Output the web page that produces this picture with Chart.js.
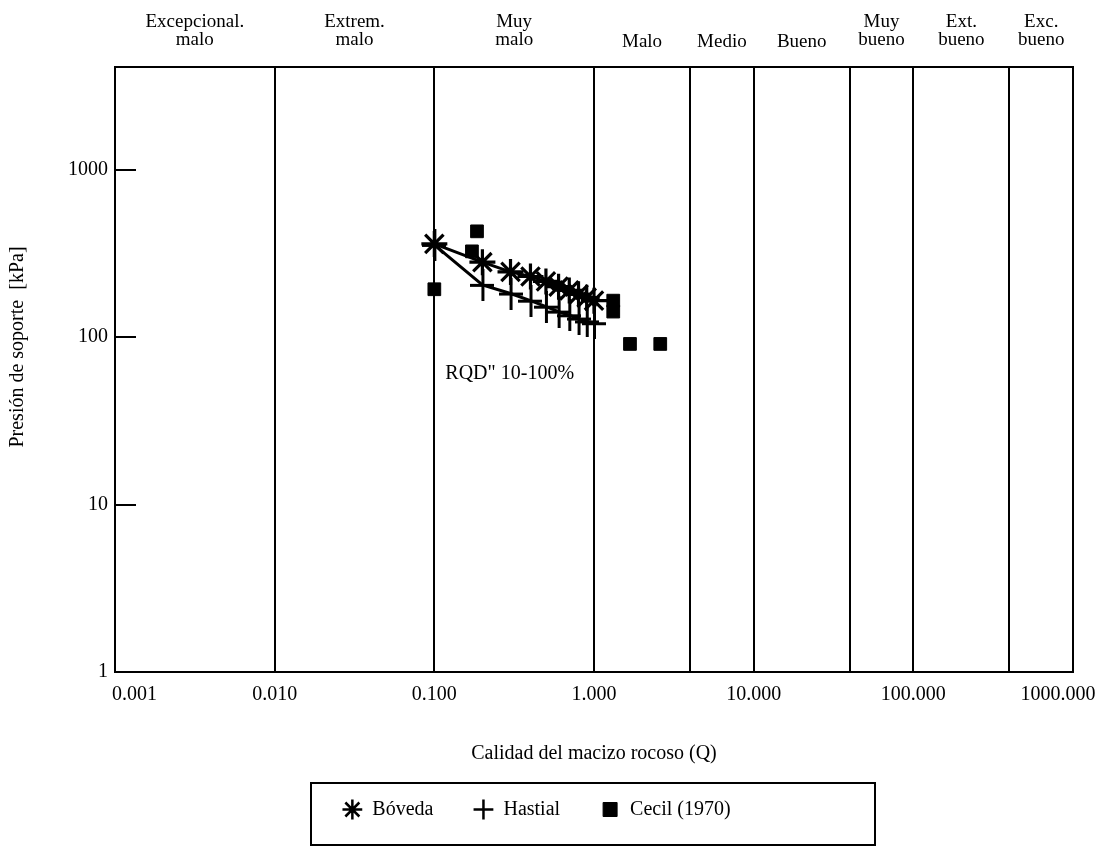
<!DOCTYPE html>
<html><head><meta charset="utf-8">
<script src="https://cdn.jsdelivr.net/npm/chart.js@4/dist/chart.umd.min.js"></script>
<style>html,body{margin:0;padding:0;background:#fff}</style>
</head><body>
<canvas id="c" width="1100" height="847"></canvas>
<script>
const Q_VALUES = [0.1, 0.2, 0.3, 0.4, 0.5, 0.6, 0.7, 0.8, 0.9, 1.0];
const BOVEDA = [360, 280, 245, 230, 215, 200, 190, 180, 172, 165];
const HASTIAL = [355, 205, 182, 165, 152, 142, 135, 129, 124, 121];
const CECIL_Q = [0.1, 0.172, 0.185, 1.32, 1.32, 1.68, 2.6];
const CECIL_P = [193, 325, 428, 165, 142, 91, 91];
const X_TICKS = [0.001, 0.01, 0.1, 1, 10, 100, 1000];
const X_TICK_LABELS = ['0.001', '0.010', '0.100', '1.000', '10.000', '100.000', '1000.000'];
const Y_TICKS = [1, 10, 100, 1000];
const Y_TICK_LABELS = ['1', '10', '100', '1000'];
const CLASS_BOUNDS = [0.001, 0.01, 0.1, 1, 4, 10, 40, 100, 400, 1000];
const CLASS_LABELS = [['Excepcional.', 'malo'], ['Extrem.', 'malo'], ['Muy', 'malo'], ['Malo'], ['Medio'], ['Bueno'], ['Muy', 'bueno'], ['Ext.', 'bueno'], ['Exc.', 'bueno']];
const SERIES_NAMES = ['Bóveda', 'Hastial', 'Cecil (1970)'];
const X_TITLE = 'Calidad del macizo rocoso (Q)';
const Y_TITLE = 'Presión de soporte  [kPa]';
const NOTE_TEXT = 'RQD" 10-100%';
const NOTE_POS = {x: 0.1, y: 60};

const FONT = '"Liberation Serif", "Times New Roman", serif';
const INK = '#000';

function makePlus(w, h, lw) {
  const cv = document.createElement('canvas');
  cv.width = w; cv.height = h;
  const g = cv.getContext('2d');
  g.fillStyle = INK;
  g.fillRect(0, Math.round(h / 2 - lw / 2), w, lw);
  g.fillRect(Math.round(w / 2 - lw / 2), 0, lw, h);
  return cv;
}
const PLUS_MARK = makePlus(24, 32, 3);

const decor = {
  id: 'decor',
  beforeDatasetsDraw(chart) {
    const {ctx, chartArea: a, scales: {x, y}} = chart;
    ctx.save();
    ctx.strokeStyle = INK;
    ctx.lineWidth = 2;
    CLASS_BOUNDS.slice(1, -1).forEach(b => {
      const px = Math.round(x.getPixelForValue(b));
      ctx.beginPath(); ctx.moveTo(px, a.top); ctx.lineTo(px, a.bottom); ctx.stroke();
    });
    ctx.strokeRect(a.left, a.top, a.right - a.left, a.bottom - a.top);
    Y_TICKS.forEach(v => {
      const py = Math.round(y.getPixelForValue(v));
      ctx.beginPath(); ctx.moveTo(a.left, py); ctx.lineTo(a.left + 21, py); ctx.stroke();
    });
    ctx.restore();
  },
  afterDraw(chart) {
    const {ctx, chartArea: a, scales: {x, y}} = chart;
    ctx.save();
    ctx.fillStyle = INK;
    ctx.font = '19px ' + FONT;
    ctx.textAlign = 'center';
    ctx.textBaseline = 'alphabetic';
    CLASS_LABELS.forEach((lines, i) => {
      const c = Math.sqrt(CLASS_BOUNDS[i] * CLASS_BOUNDS[i + 1]);
      const px = x.getPixelForValue(c);
      if (lines.length === 1) {
        ctx.fillText(lines[0], px, 47);
      } else {
        ctx.fillText(lines[0], px, 27);
        ctx.fillText(lines[1], px, 45);
      }
    });
    ctx.font = '20px ' + FONT;
    ctx.textBaseline = 'middle';
    X_TICKS.forEach((v, i) => {
      const px = x.getPixelForValue(v);
      if (i === 0) { ctx.textAlign = 'left'; ctx.fillText(X_TICK_LABELS[i], px - 3, a.bottom + 23); }
      else if (i === X_TICKS.length - 1) { ctx.textAlign = 'center'; ctx.fillText(X_TICK_LABELS[i], px - 15, a.bottom + 23); }
      else { ctx.textAlign = 'center'; ctx.fillText(X_TICK_LABELS[i], px, a.bottom + 23); }
    });
    ctx.save();
    ctx.translate(18, 347);
    ctx.rotate(-Math.PI / 2);
    ctx.textAlign = 'center';
    ctx.fillText(Y_TITLE, 0, 0);
    ctx.restore();
    ctx.textAlign = 'left';
    ctx.fillText(NOTE_TEXT, x.getPixelForValue(NOTE_POS.x) + 11, y.getPixelForValue(NOTE_POS.y));
    ctx.strokeStyle = INK;
    ctx.lineWidth = 2;
    ctx.strokeRect(311, 783, 564, 62);
    ctx.restore();
  }
};

new Chart(document.getElementById('c'), {
  type: 'scatter',
  data: {
    datasets: [
      {
        label: SERIES_NAMES[0],
        data: Q_VALUES.map((q, i) => ({x: q, y: BOVEDA[i]})),
        showLine: true, borderColor: INK, backgroundColor: INK, borderWidth: 3,
        pointStyle: 'star', pointRadius: 13, pointBorderWidth: 3.2, pointBorderColor: INK
      },
      {
        label: SERIES_NAMES[1],
        data: Q_VALUES.map((q, i) => ({x: q, y: HASTIAL[i]})),
        showLine: true, borderColor: INK, backgroundColor: INK, borderWidth: 3,
        pointStyle: PLUS_MARK, pointRadius: 12, pointBorderWidth: 3, pointBorderColor: INK
      },
      {
        label: SERIES_NAMES[2],
        data: CECIL_Q.map((q, i) => ({x: q, y: CECIL_P[i]})),
        showLine: false, borderColor: INK, backgroundColor: INK, borderWidth: 1,
        pointStyle: 'rect', pointRadius: 9, pointBorderWidth: 1
      }
    ]
  },
  options: {
    responsive: false,
    animation: false,
    layout: {padding: {top: 67, right: 27, bottom: 17.5, left: 0}},
    scales: {
      x: {
        type: 'logarithmic', min: 0.001, max: 1000,
        afterBuildTicks: s => { s.ticks = X_TICKS.map(v => ({value: v})); },
        afterFit: s => { s.height = 87.5; },
        grid: {display: false, drawTicks: false},
        border: {display: false},
        ticks: {display: false},
        title: {display: true, text: X_TITLE, color: INK, font: {family: FONT, size: 20}, padding: {top: 0, bottom: -6}}
      },
      y: {
        type: 'logarithmic', min: 1, max: 4100,
        afterBuildTicks: s => { s.ticks = Y_TICKS.map(v => ({value: v})); },
        afterFit: s => { s.width = 115; },
        grid: {display: false, drawTicks: false},
        border: {display: false},
        ticks: {
          color: INK, font: {family: FONT, size: 20}, padding: 7,
          callback: (v) => { const i = Y_TICKS.indexOf(v); return i >= 0 ? Y_TICK_LABELS[i] : ''; }
        }
      }
    },
    plugins: {
      tooltip: {enabled: false},
      legend: {
        position: 'bottom',
        labels: {
          usePointStyle: true, boxHeight: 14, padding: 40, color: INK, font: {family: FONT, size: 20},
          generateLabels: (chart) => {
            const items = Chart.defaults.plugins.legend.labels.generateLabels(chart);
            items.forEach(it => {
              if (it.datasetIndex === 1) { it.pointStyle = 'cross'; it.lineWidth = 2.5; }
              if (it.datasetIndex === 0) { it.lineWidth = 2.5; }
            });
            return items;
          }
        }
      }
    }
  },
  plugins: [decor]
});
</script>
</body></html>
